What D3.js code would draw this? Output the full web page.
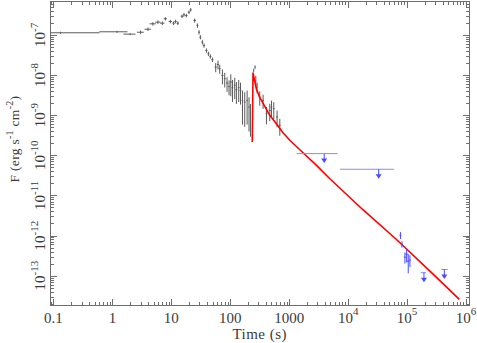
<!DOCTYPE html>
<html lang="en">
<head>
<meta charset="utf-8">
<title>Light curve</title>
<script src="https://d3js.org/d3.v7.min.js"></script>
<style>
  body { margin: 0; background: #fff; }
  text { font-family: "Liberation Serif", "DejaVu Serif", serif; fill: #3a3a3a; }
</style>
</head>
<body>
<div id="chart"></div>
<script>

// black data points (time, time error, flux, flux error)
var blkTime = [0.132, 1.2, 2.0, 3.01, 4.01, 4.87, 5.93, 7.04, 7.91, 9.62, 10.9, 11.8, 12.9, 15.2, 16.4, 18.0, 19.9, 21.3,
  24.9, 27.7, 29.5, 31.1, 33.6, 35.8, 39.4, 42.6, 46.0, 49.8, 56.6, 61.9, 66.2, 73.6, 80.5, 88.1, 95.2,
  102, 109, 119, 127, 139, 149, 161, 176, 193, 208, 220,
  250, 263, 271, 285, 316, 360, 411, 468, 500, 547, 622, 692];
var blkTimeErr = [0.474, 0.6, 0.46, 0.4, 0.5, 0.6, 0.6, 0.6, 0.5, 0.6, 0.5, 0.5, 0.6, 0.8, 0.6, 0.8, 0.8, 0.8,
  1.2, 1.0, 1.0, 1.2, 1.2, 1.4, 1.6, 1.6, 1.8, 2, 2.5, 2.5, 2.5, 3, 3, 3.5, 3.5,
  4, 4, 4, 5, 5, 5, 5, 6, 6, 6, 5,
  3, 4, 4, 6, 10, 12, 14, 16, 16, 18, 20, 25];
var blkFlux = [1.125e-7, 1.19e-7, 1.04e-7, 1.16e-7, 1.38e-7, 1.88e-7, 2.07e-7, 1.95e-7, 2.51e-7, 2.15e-7, 1.95e-7, 2.15e-7, 1.95e-7, 2.91e-7, 3.16e-7, 3.03e-7, 3.66e-7, 4.2e-7,
  2.28e-7, 1.71e-7, 1.16e-7, 8.75e-8, 6.57e-8, 5.44e-8, 4.08e-8, 3.38e-8, 2.9e-8, 2.4e-8, 1.57e-8, 1.83e-8, 1.43e-8, 9.76e-9, 8.07e-9, 6.28e-9, 5.2e-9,
  6.65e-9, 4.82e-9, 5.5e-9, 4.3e-9, 4.82e-9, 4.13e-9, 2.33e-9, 2.11e-9, 2.33e-9, 1.59e-9, 1.09e-9,
  1.3e-8, 1.57e-8, 7.33e-9, 4.99e-9, 2.81e-9, 2.33e-9, 1.09e-9, 1.31e-9, 1.59e-9, 1.45e-9, 8.95e-10, 5.56e-10];
var blkFluxErr = [7e-9, 7e-9, 6e-9, 1.2e-8, 1.4e-8, 1.9e-8, 2.1e-8, 2.0e-8, 2.5e-8, 2.2e-8, 2.0e-8, 2.2e-8, 2.0e-8, 2.9e-8, 3.2e-8, 3.0e-8, 3.7e-8, 4.2e-8,
  2.7e-8, 2.1e-8, 1.4e-8, 1.05e-8, 8e-9, 6.5e-9, 5e-9, 4e-9, 3.5e-9, 3e-9, 4e-9, 4.5e-9, 3.6e-9, 3.9e-9, 3.2e-9, 2.5e-9, 2.1e-9,
  3.7e-9, 2.7e-9, 3.0e-9, 2.4e-9, 2.7e-9, 2.3e-9, 1.75e-9, 1.6e-9, 1.75e-9, 1.2e-9, 8e-10,
  1.3e-9, 1.6e-9, 2.2e-9, 1.5e-9, 1.1e-9, 9e-10, 5e-10, 6e-10, 7e-10, 6.5e-10, 4e-10, 2.5e-10];

// blue late points
var bluTime = [77100, 81700, 91800, 98200, 104500, 111600];
var bluTimeErr = [3000, 3000, 4000, 5000, 5000, 4000];
var bluFlux = [1.02e-12, 6.1e-13, 2.9e-13, 3.44e-13, 2.3e-13, 2.44e-13];
var bluFluxErr = [2e-13, 1.1e-13, 0.9e-13, 1.3e-13, 1.15e-13, 0.8e-13];

// blue upper limits
var ulTime = [3920, 32900, 193000, 428000];
var ulTimeLo = [1330, 7230, 170000, 380000];
var ulTimeHi = [6610, 59700, 209000, 490000];
var ulFlux = [1.1e-10, 4.48e-11, 1.19e-13, 1.43e-13];

// red model curve
var modelTime = [236, 243, 278, 316, 385, 468, 615, 778, 1023, 1514, 2904, 4887, 17800, 64600, 244000, 769000];
var modelFlux = [2.14e-10, 1.12e-8, 4.4e-9, 2.77e-9, 1.65e-9, 9.9e-10, 5.9e-10, 3.7e-10, 2.36e-10, 1.37e-10, 5.6e-11, 2.6e-11, 4.4e-12, 8.2e-13, 1.3e-13, 2.57e-14];

var xMajor = [0.1, 1, 10, 100, 1000, 1e4, 1e5, 1e6];
var xLabels = ["0.1", "1", "10", "100", "1000", ["10", "4"], ["10", "5"], ["10", "6"]];
var yMajor = [1e-13, 1e-12, 1e-11, 1e-10, 1e-9, 1e-8, 1e-7];
var yExp = ["-13", "-12", "-11", "-10", "-9", "-8", "-7"];

var W = 477, H = 343;
var pLeft = 50.5, pRight = 469, pTop = 1.5, pBottom = 305;

var svg = d3.select("#chart").append("svg")
  .attr("width", W).attr("height", H);

var x = d3.scaleLog().domain([Math.pow(10, -1.05), Math.pow(10, 6.05)]).range([pLeft, pRight]);
var y = d3.scaleLog().domain([Math.pow(10, -13.73), Math.pow(10, -6.17)]).range([pBottom, pTop]);

svg.append("clipPath").attr("id", "clip")
  .append("rect").attr("x", pLeft).attr("y", pTop).attr("width", pRight - pLeft).attr("height", pBottom - pTop);

// minor ticks
function minors(scale) {
  var d = scale.domain(), out = [];
  for (var e = Math.floor(Math.log10(d[0])); e <= Math.ceil(Math.log10(d[1])); e++) {
    for (var k = 2; k <= 9; k++) {
      var v = k * Math.pow(10, e);
      if (v > d[0] && v < d[1]) out.push(v);
    }
  }
  return out;
}

var axisColor = "#6e6e6e";
function drawAxis(axis, tx, ty, values, size) {
  var g = svg.append("g")
    .attr("transform", "translate(" + tx + "," + ty + ")")
    .call(axis.tickValues(values).tickSizeInner(-size).tickSizeOuter(0).tickFormat(""));
  g.select(".domain").remove();
  g.selectAll("line").attr("stroke", axisColor).attr("shape-rendering", "crispEdges");
}
drawAxis(d3.axisBottom(x), 0, pBottom, xMajor, 6);
drawAxis(d3.axisBottom(x), 0, pBottom, minors(x), 3);
drawAxis(d3.axisTop(x), 0, pTop, xMajor, 6);
drawAxis(d3.axisTop(x), 0, pTop, minors(x), 3);
drawAxis(d3.axisLeft(y), pLeft, 0, yMajor, 6);
drawAxis(d3.axisLeft(y), pLeft, 0, minors(y), 3);
drawAxis(d3.axisRight(y), pRight, 0, yMajor, 6);
drawAxis(d3.axisRight(y), pRight, 0, minors(y), 3);

svg.append("rect")
  .attr("x", pLeft).attr("y", pTop).attr("width", pRight - pLeft).attr("height", pBottom - pTop)
  .attr("fill", "none").attr("stroke", axisColor).attr("shape-rendering", "crispEdges");

// x tick labels
xMajor.forEach(function(v, i) {
  var t = svg.append("text")
    .attr("x", x(v)).attr("y", 323)
    .attr("text-anchor", "middle")
    .style("font-size", "15px");
  var lab = xLabels[i];
  if (typeof lab === "string") {
    t.text(lab);
  } else {
    t.append("tspan").text(lab[0]);
    t.append("tspan").attr("dy", -8).style("font-size", "11px").text(lab[1]);
  }
});

// y tick labels (rotated)
yMajor.forEach(function(v, i) {
  var t = svg.append("text")
    .attr("transform", "translate(45," + y(v) + ") rotate(-90)")
    .attr("text-anchor", "middle")
    .style("font-size", "15px");
  t.append("tspan").text("10");
  t.append("tspan").attr("dy", -7).style("font-size", "11px").text(yExp[i]);
});

// axis titles
svg.append("text")
  .attr("x", (pLeft + pRight) / 2).attr("y", 339)
  .attr("text-anchor", "middle")
  .style("font-size", "15px")
  .style("letter-spacing", "0.5px")
  .text("Time (s)");

var yt = svg.append("text")
  .attr("transform", "translate(19,139) rotate(-90)")
  .attr("text-anchor", "middle")
  .style("font-size", "13.5px")
  .style("letter-spacing", "0.3px");
yt.append("tspan").text("F (erg s");
yt.append("tspan").attr("dy", -6).style("font-size", "10px").text("-1");
yt.append("tspan").attr("dy", 6).text(" cm");
yt.append("tspan").attr("dy", -6).style("font-size", "10px").text("-2");
yt.append("tspan").attr("dy", 6).text(")");

var plot = svg.append("g").attr("clip-path", "url(#clip)");
var xMin = x.domain()[0], yMin = y.domain()[0];

// black points with error bars
var blk = plot.append("g").attr("stroke", "#5a5a5a").attr("stroke-width", 1);
blkTime.forEach(function(t, i) {
  var f = blkFlux[i];
  blk.append("line")
    .attr("x1", x(Math.max(t - blkTimeErr[i], xMin))).attr("x2", x(t + blkTimeErr[i]))
    .attr("y1", y(f)).attr("y2", y(f));
  blk.append("line")
    .attr("x1", x(t)).attr("x2", x(t))
    .attr("y1", y(Math.max(f - blkFluxErr[i], yMin))).attr("y2", y(f + blkFluxErr[i]));
});

// red model
plot.append("path")
  .datum(modelTime.map(function(t, i) { return [t, modelFlux[i]]; }))
  .attr("fill", "none")
  .attr("stroke", "#ff0000")
  .attr("stroke-width", 1.6)
  .attr("stroke-linejoin", "round")
  .attr("d", d3.line()
    .x(function(d) { return x(d[0]); })
    .y(function(d) { return y(d[1]); }));

// blue points
var blue = "#4a4aff";
var blu = plot.append("g").attr("stroke", blue).attr("stroke-width", 1);
bluTime.forEach(function(t, i) {
  var f = bluFlux[i];
  blu.append("line")
    .attr("x1", x(t - bluTimeErr[i])).attr("x2", x(t + bluTimeErr[i]))
    .attr("y1", y(f)).attr("y2", y(f));
  blu.append("line")
    .attr("x1", x(t)).attr("x2", x(t))
    .attr("y1", y(f - bluFluxErr[i])).attr("y2", y(f + bluFluxErr[i]));
});

// blue upper limits with arrows
var ul = plot.append("g");
ulTime.forEach(function(t, i) {
  var yy = y(ulFlux[i]), xx = x(t);
  ul.append("line")
    .attr("x1", x(ulTimeLo[i])).attr("x2", x(ulTimeHi[i]))
    .attr("y1", yy).attr("y2", yy)
    .attr("stroke", "#8a8aff").attr("stroke-width", 1);
  ul.append("line")
    .attr("x1", xx).attr("x2", xx).attr("y1", yy).attr("y2", yy + 8)
    .attr("stroke", blue).attr("stroke-width", 1);
  ul.append("path")
    .attr("d", "M" + (xx - 3) + "," + (yy + 5) + "L" + (xx + 3) + "," + (yy + 5) + "L" + xx + "," + (yy + 9.5) + "Z")
    .attr("fill", blue);
});

</script>
</body>
</html>
